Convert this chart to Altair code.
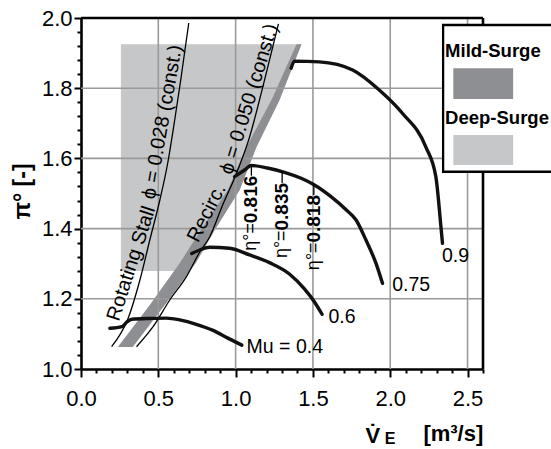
import altair as alt
import pandas as pd

FONT = "Liberation Sans"
LIGHT = "#c6c7c9"
DARK = "#8e8f92"
GRID = "#9a9a9a"

# ---- axes -------------------------------------------------------------
x_ticks = [0.0, 0.1, 0.2, 0.3, 0.4, 0.5, 0.6, 0.7, 0.8, 0.9, 1.0, 1.1, 1.2, 1.3,
           1.4, 1.5, 1.6, 1.7, 1.8, 1.9, 2.0, 2.1, 2.2, 2.3, 2.4, 2.5, 2.6]
y_ticks = [1.0, 1.04, 1.08, 1.12, 1.16, 1.2, 1.24, 1.28, 1.32, 1.36, 1.4, 1.44, 1.48,
           1.52, 1.56, 1.6, 1.64, 1.68, 1.72, 1.76, 1.8, 1.84, 1.88, 1.92, 1.96, 2.0]
x_grid = [0.5, 1.0, 1.5, 2.0, 2.5]
y_grid = [1.2, 1.4, 1.6, 1.8]
x_min, x_max = 0.0, 2.6
y_min, y_max = 1.0, 2.0

# ---- surge regions (horizontal slices) ---------------------------------
deep_y = [1.279, 1.302, 1.396, 1.51, 1.6325, 1.7664, 1.925]
deep_x1 = [0.258, 0.258, 0.258, 0.258, 0.258, 0.258, 0.258]
deep_x2 = [0.704, 0.742, 0.865, 1.026, 1.135, 1.284, 1.426]

mild_y = [1.0627, 1.1823, 1.302, 1.396, 1.51, 1.6325, 1.7664, 1.925]
mild_x1 = [0.238, 0.445, 0.639, 0.775, 0.949, 1.070, 1.232, 1.394]
mild_x2 = [0.335, 0.542, 0.742, 0.865, 1.026, 1.135, 1.284, 1.426]

# ---- constant-phi lines -----------------------------------------------
rs_x = [0.198, 0.305, 0.381, 0.445, 0.510, 0.561, 0.606, 0.645, 0.697]
rs_y = [1.0635, 1.1444, 1.2536, 1.3675, 1.4815, 1.5869, 1.7094, 1.8234, 1.9858]
rc_x = [0.359, 0.466, 0.574, 0.682, 0.768, 0.832, 0.916, 1.006, 1.084, 1.187, 1.277]
rc_y = [1.0635, 1.1205, 1.1966, 1.263, 1.3333, 1.376, 1.467, 1.558, 1.652, 1.823, 1.983]

# ---- speed lines -------------------------------------------------------
mu04_x = [0.187, 0.265, 0.297, 0.329, 0.45, 0.55, 0.639, 0.74, 0.854, 0.95, 1.04]
mu04_y = [1.116, 1.121, 1.134, 1.1416, 1.144, 1.145, 1.140, 1.128, 1.110, 1.088, 1.068]
mu06_x = [0.716, 0.768, 0.832, 0.961, 1.090, 1.219, 1.348, 1.445, 1.510, 1.559]
mu06_y = [1.329, 1.339, 1.3467, 1.344, 1.325, 1.303, 1.2707, 1.228, 1.191, 1.156]
mu075_x = [0.9935, 1.058, 1.101, 1.206, 1.316, 1.424, 1.510, 1.617, 1.716, 1.779, 1.843, 1.908, 1.950]
mu075_y = [1.5479, 1.567, 1.5798, 1.5726, 1.5604, 1.5433, 1.5242, 1.4909, 1.453, 1.4245, 1.3675, 1.301, 1.244]
mu09_x = [1.359, 1.381, 1.542, 1.757, 1.929, 2.080, 2.230, 2.295, 2.327, 2.338]
mu09_y = [1.857, 1.877, 1.875, 1.852, 1.795, 1.728, 1.633, 1.548, 1.410, 1.358]

curve_labels = ["Mu = 0.4", "0.6", "0.75", "0.9"]
curve_label_x = [1.071, 1.60, 2.013, 2.335]
curve_label_y = [1.063, 1.148, 1.239, 1.322]

# ---- efficiency labels -------------------------------------------------
eta_values = ["0.816", "0.835", "0.818"]
eta_x = [1.102, 1.301, 1.506]
eta_top = [1.5507, 1.530, 1.4957]
eta_curve = [1.579, 1.562, 1.525]
eta_len = 0.135  # length of the bold number along y (data units)

# ---- phi annotations ---------------------------------------------------
phi_text = ["Rotating Stall", "ϕ = 0.028 (const.)", "Recirc.", "ϕ = 0.050 (const.)"]
phi_x = [0.326, 0.527, 0.813, 1.088]
phi_y = [1.3006, 1.7037, 1.444, 1.769]
phi_angle = [288, 280, 297, 287]

# ---- legend --------------------------------------------------------------
legend_names = ["Mild-Surge", "Deep-Surge"]
legend_colors = [DARK, LIGHT]
legend_text_y = [1.906, 1.715]
legend_sw_y1 = [1.769, 1.581]
legend_sw_y2 = [1.857, 1.667]

# =======================================================================
xs = alt.Scale(domain=[x_min, x_max], nice=False, zero=False)
ys = alt.Scale(domain=[y_min, y_max], nice=False, zero=False)
MAJX = "abs(datum.value*2 - round(datum.value*2)) < 0.001"
MAJY = "abs(datum.value*5 - round(datum.value*5)) < 0.001"

xaxis = alt.Axis(values=x_ticks, grid=False, title=None,
                 labelExpr=f"{MAJX} ? format(datum.value, '.1f') : ''",
                 tickSize={"condition": {"test": MAJX, "value": 8}, "value": 4},
                 tickWidth=2, tickColor="black", domainColor="black", domainWidth=2.6,
                 labelFont=FONT, labelFontSize=22, labelColor="black",
                 labelPadding=11, labelOverlap=False, labelFlush=False)
yaxis = alt.Axis(values=y_ticks, grid=False, title="π°  [-]",
                 labelExpr=f"{MAJY} ? format(datum.value, '.1f') : ''",
                 tickSize={"condition": {"test": MAJY, "value": 7}, "value": 4},
                 tickWidth=2, tickColor="black", domainColor="black", domainWidth=2.6,
                 labelFont=FONT, labelFontSize=22, labelColor="black",
                 labelPadding=2, labelOverlap=False, labelFlush=False,
                 titleFont=FONT, titleFontSize=23, titleFontWeight="bold", titleColor="black",
                 titleX=-59, titleY=173, titleAngle=270, titleAlign="center", titleBaseline="middle")


def X(f="x"):
    return alt.X(f"{f}:Q", scale=xs, axis=xaxis)


def Y(f="y"):
    return alt.Y(f"{f}:Q", scale=ys, axis=yaxis)


deep_df = pd.DataFrame({"y": deep_y, "x": deep_x1, "x2": deep_x2})
mild_df = pd.DataFrame({"y": mild_y, "x": mild_x1, "x2": mild_x2})

deep = alt.Chart(deep_df).mark_area(orient="horizontal", color=LIGHT).encode(
    y=Y(), x=X(), x2=alt.X2("x2:Q"))
mild = alt.Chart(mild_df).mark_area(orient="horizontal", color=DARK).encode(
    y=Y(), x=X(), x2=alt.X2("x2:Q"))

vgrid_df = pd.DataFrame({"x": x_grid, "y": [y_min] * len(x_grid), "y2": [y_max] * len(x_grid)})
hgrid_df = pd.DataFrame({"y": y_grid, "x": [x_min] * len(y_grid), "x2": [x_max] * len(y_grid)})
vgrid = alt.Chart(vgrid_df).mark_rule(color=GRID, strokeWidth=1.6).encode(
    x=X(), y=Y(), y2=alt.Y2("y2:Q"))
hgrid = alt.Chart(hgrid_df).mark_rule(color=GRID, strokeWidth=1.6).encode(
    y=Y(), x=X(), x2=alt.X2("x2:Q"))

frame_v = alt.Chart(pd.DataFrame({"x": [x_max], "y": [y_min], "y2": [y_max]})).mark_rule(
    color="black", strokeWidth=2.6).encode(x=X(), y=Y(), y2=alt.Y2("y2:Q"))
frame_h = alt.Chart(pd.DataFrame({"y": [y_max], "x": [x_min], "x2": [x_max]})).mark_rule(
    color="black", strokeWidth=2.6).encode(y=Y(), x=X(), x2=alt.X2("x2:Q"))


def series_df(name, xv, yv):
    return pd.DataFrame({"s": name, "i": list(range(len(xv))), "x": xv, "y": yv})


phi_df = pd.concat([series_df("rs", rs_x, rs_y), series_df("rc", rc_x, rc_y)])
mu_df = pd.concat([series_df("0.4", mu04_x, mu04_y), series_df("0.6", mu06_x, mu06_y),
                   series_df("0.75", mu075_x, mu075_y), series_df("0.9", mu09_x, mu09_y)])

phi_lines = alt.Chart(phi_df).mark_line(color="black", strokeWidth=1.3, interpolate="monotone").encode(
    x=X(), y=Y(), detail="s:N", order="i:Q")
mu_lines = alt.Chart(mu_df).mark_line(color="#111111", strokeWidth=3.4, interpolate="monotone",
                                      strokeCap="round", strokeJoin="round").encode(
    x=X(), y=Y(), detail="s:N", order="i:Q")

cl_df = pd.DataFrame({"x": curve_label_x, "y": curve_label_y, "t": curve_labels})
curve_text = alt.Chart(cl_df).mark_text(font=FONT, fontSize=19.5, align="left", baseline="middle",
                                        color="black").encode(x=X(), y=Y(), text="t:N")

eta_df = pd.DataFrame({"x": eta_x, "y": eta_top, "y2": eta_curve, "t": eta_values,
                       "ys": [t - eta_len for t in eta_top]})
eta_dash = alt.Chart(eta_df).mark_rule(color="black", strokeWidth=1.3).encode(
    x=X(), y=Y(), y2=alt.Y2("y2:Q"))
eta_num = alt.Chart(eta_df).mark_text(font=FONT, fontSize=19, fontWeight="bold", angle=270,
                                      align="right", baseline="middle", color="black").encode(
    x=X(), y=Y(), text="t:N")
eta_sym = alt.Chart(eta_df).mark_text(font=FONT, fontSize=18, angle=270, align="right",
                                      baseline="middle", color="black").encode(
    x=X(), y=Y("ys"), text=alt.value("η°="))

phi_t_df = pd.DataFrame({"x": phi_x, "y": phi_y, "t": phi_text, "a": phi_angle})
phi_txt = alt.Chart(phi_t_df).mark_text(font=FONT, fontSize=20, align="center",
                                        baseline="middle", color="black").encode(
    x=X(), y=Y(), text="t:N", angle=alt.Angle("a:Q", scale=None))

# x-axis title pieces
xt_df = pd.DataFrame({"x": [1.888, 2.408], "y": [0.790, 0.796], "t": ["V\u0307", "[m³/s]"]})
xt = alt.Chart(xt_df).mark_text(font=FONT, fontSize=22, fontWeight="bold", align="center",
                                baseline="alphabetic", color="black").encode(
    x=X(), y=Y(), text="t:N")
xsub = alt.Chart(pd.DataFrame({"x": [1.999], "y": [0.786], "t": ["E"]})).mark_text(
    font=FONT, fontSize=16, fontWeight="bold", align="center", baseline="alphabetic",
    color="black").encode(x=X(), y=Y(), text="t:N")

# legend
leg_box = alt.Chart(pd.DataFrame({"x": [2.342], "x2": [3.3], "y": [1.562], "y2": [1.98]})).mark_rect(
    fill="white", stroke="black", strokeWidth=2.3).encode(
    x=X(), x2=alt.X2("x2:Q"), y=Y(), y2=alt.Y2("y2:Q"))
leg_sw_df = pd.DataFrame({"x": [2.408, 2.408], "x2": [2.795, 2.795], "y": legend_sw_y1,
                          "y2": legend_sw_y2, "c": legend_colors})
leg_sw = alt.Chart(leg_sw_df).mark_rect().encode(
    x=X(), x2=alt.X2("x2:Q"), y=Y(), y2=alt.Y2("y2:Q"), color=alt.Color("c:N", scale=None))
leg_txt_df = pd.DataFrame({"x": [2.355, 2.355], "y": legend_text_y, "t": legend_names})
leg_txt = alt.Chart(leg_txt_df).mark_text(font=FONT, fontSize=18.5, fontWeight="bold",
                                          align="left", baseline="middle", color="black").encode(
    x=X(), y=Y(), text="t:N")

chart = alt.layer(
    deep, mild, vgrid, hgrid, frame_v, frame_h, phi_lines, mu_lines, eta_dash,
    curve_text, eta_num, eta_sym, phi_txt, xt, xsub, leg_box, leg_sw, leg_txt
).properties(
    width=402, height=351,
    autosize=alt.AutoSizeParams(type="none"),
    padding={"left": 81, "top": 18, "right": 68, "bottom": 80},
    background="white",
).configure_view(stroke="transparent")

chart.save("out.html", embed_options={"renderer": "svg", "actions": False})
